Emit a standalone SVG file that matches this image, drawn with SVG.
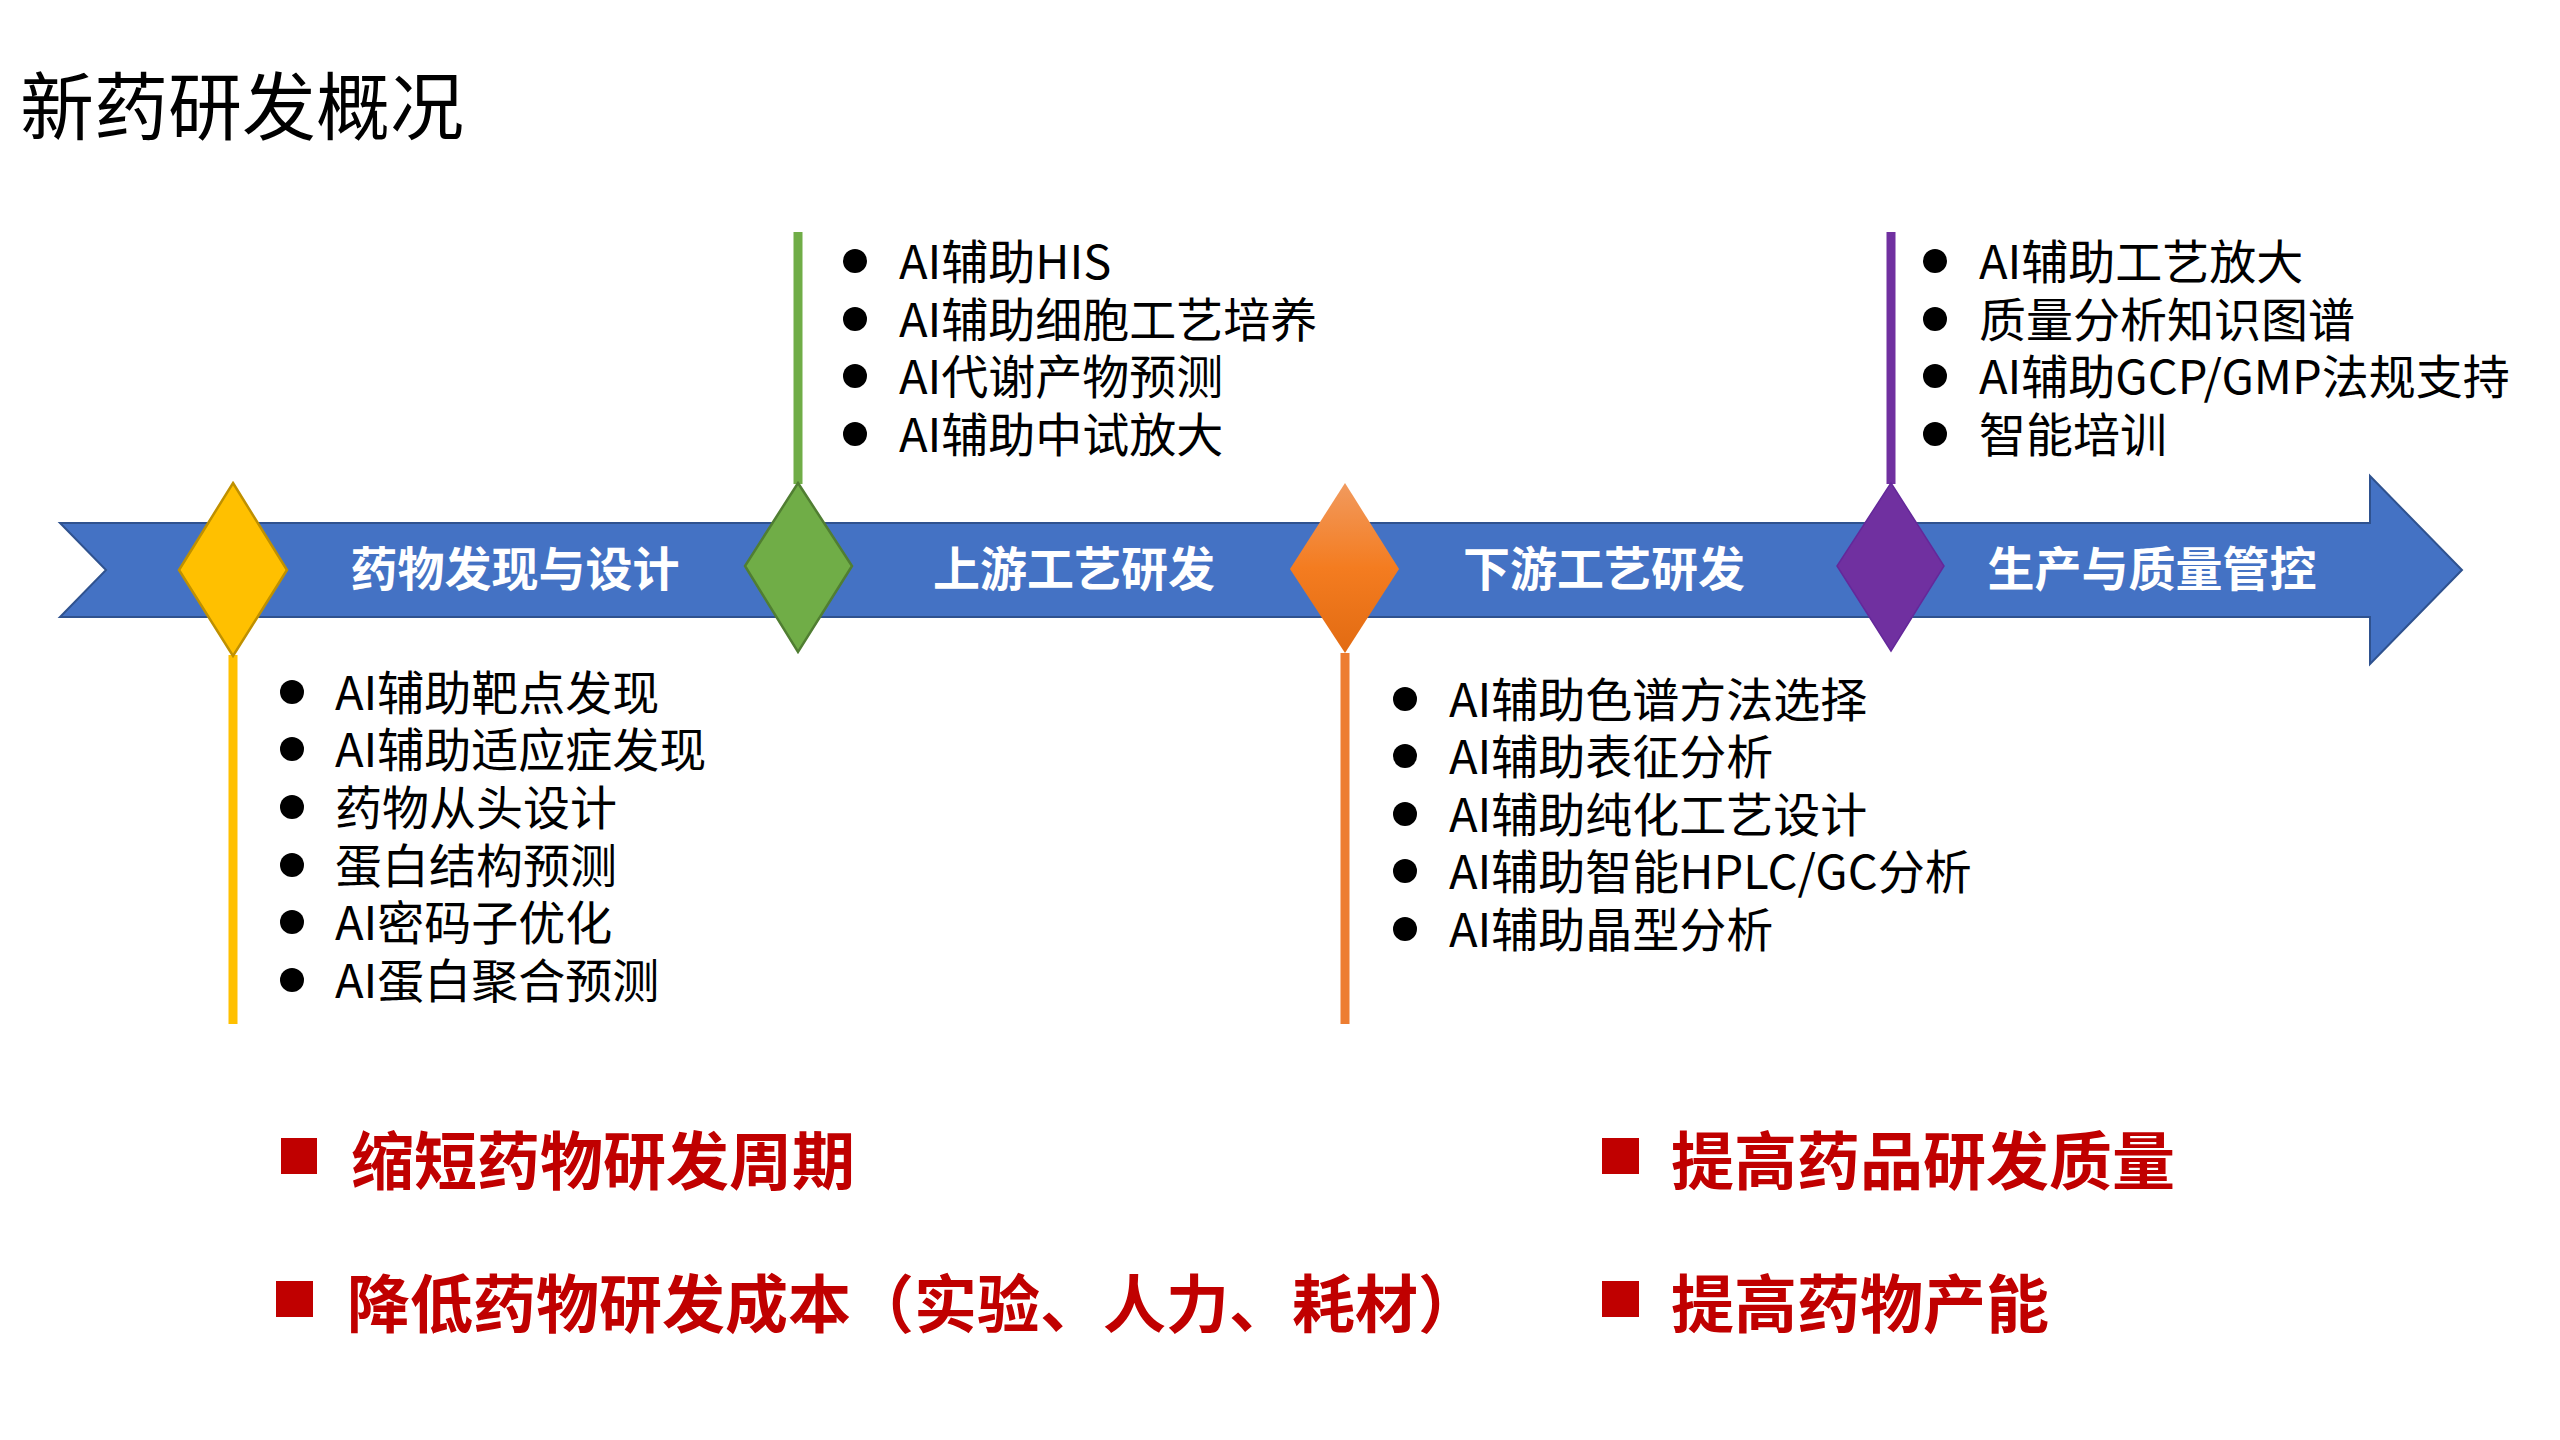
<svg xmlns="http://www.w3.org/2000/svg" width="2560" height="1440" viewBox="0 0 2560 1440">
  <style>
    .title { font-family: "Noto Sans CJK SC", "Noto Sans", sans-serif; font-size: 74px; fill: #000; }
    .stage { font-family: "Noto Sans CJK SC", "Noto Sans", sans-serif; font-size: 47px; font-weight: bold; fill: #fff; text-anchor: middle; }
    .item { font-family: "Noto Sans CJK SC", "Noto Sans", sans-serif; font-size: 47px; fill: #000; }
    .goal { font-family: "Noto Sans CJK SC", "Noto Sans", sans-serif; font-size: 63px; font-weight: bold; fill: #C00000; }
    .dot { fill: #000; }
    .sq { fill: #C00000; }
  </style>
  <defs>
    <linearGradient id="orangeGrad" x1="0" y1="0" x2="0" y2="1">
      <stop offset="0" stop-color="#F19A5E"/>
      <stop offset="0.5" stop-color="#F47C20"/>
      <stop offset="1" stop-color="#E26B12"/>
    </linearGradient>
  </defs>

  <rect width="2560" height="1440" fill="#fff"/>

  <text class="title" x="20" y="134">新药研发概况</text>

  <g id="timeline-arrow">
    <polygon points="60,523 2370,523 2370,476 2462,570 2370,664 2370,617 60,617 106,570" fill="#4472C4" stroke="#2F528F" stroke-width="2"/>
  </g>

  <g id="connectors">
    <line x1="233" y1="655" x2="233" y2="1024" stroke="#FFC000" stroke-width="9"/>
    <line x1="798" y1="232" x2="798" y2="484" stroke="#70AD47" stroke-width="9"/>
    <line x1="1345" y1="653" x2="1345" y2="1024" stroke="#ED7D31" stroke-width="9"/>
    <line x1="1891" y1="232" x2="1891" y2="484" stroke="#7030A0" stroke-width="9"/>
  </g>

  <g id="stage-discovery">
    <polygon points="233,483 287,570 233,656 179,570" fill="#FFC000" stroke="#BF9000" stroke-width="2.5"/>
    <text class="stage" x="515" y="586">药物发现与设计</text>
  </g>
  <g id="stage-upstream">
    <polygon points="798,483 852,566 798,652 745,566" fill="#70AD47" stroke="#507E32" stroke-width="2.5"/>
    <text class="stage" x="1074" y="586">上游工艺研发</text>
  </g>
  <g id="stage-downstream">
    <polygon points="1345,483 1399,569 1345,653 1290,569" fill="url(#orangeGrad)"/>
    <text class="stage" x="1604" y="586">下游工艺研发</text>
  </g>
  <g id="stage-production">
    <polygon points="1891,483 1944,566 1891,651 1837,566" fill="#7030A0" stroke="#64289A" stroke-width="1.5"/>
    <text class="stage" x="2152" y="586">生产与质量管控</text>
  </g>

  <g id="list-discovery">
    <circle class="dot" cx="292" cy="692" r="12"/>
    <text class="item" x="335" y="710">AI辅助靶点发现</text>
    <circle class="dot" cx="292" cy="749" r="12"/>
    <text class="item" x="335" y="767">AI辅助适应症发现</text>
    <circle class="dot" cx="292" cy="807" r="12"/>
    <text class="item" x="335" y="825">药物从头设计</text>
    <circle class="dot" cx="292" cy="865" r="12"/>
    <text class="item" x="335" y="883">蛋白结构预测</text>
    <circle class="dot" cx="292" cy="922" r="12"/>
    <text class="item" x="335" y="940">AI密码子优化</text>
    <circle class="dot" cx="292" cy="980" r="12"/>
    <text class="item" x="335" y="998">AI蛋白聚合预测</text>
  </g>

  <g id="list-upstream">
    <circle class="dot" cx="855" cy="261" r="12"/>
    <text class="item" x="899" y="279">AI辅助HIS</text>
    <circle class="dot" cx="855" cy="319" r="12"/>
    <text class="item" x="899" y="337">AI辅助细胞工艺培养</text>
    <circle class="dot" cx="855" cy="376" r="12"/>
    <text class="item" x="899" y="394">AI代谢产物预测</text>
    <circle class="dot" cx="855" cy="434" r="12"/>
    <text class="item" x="899" y="452">AI辅助中试放大</text>
  </g>

  <g id="list-downstream">
    <circle class="dot" cx="1405" cy="699" r="12"/>
    <text class="item" x="1449" y="717">AI辅助色谱方法选择</text>
    <circle class="dot" cx="1405" cy="756" r="12"/>
    <text class="item" x="1449" y="774">AI辅助表征分析</text>
    <circle class="dot" cx="1405" cy="814" r="12"/>
    <text class="item" x="1449" y="832">AI辅助纯化工艺设计</text>
    <circle class="dot" cx="1405" cy="871" r="12"/>
    <text class="item" x="1449" y="889">AI辅助智能HPLC/GC分析</text>
    <circle class="dot" cx="1405" cy="929" r="12"/>
    <text class="item" x="1449" y="947">AI辅助晶型分析</text>
  </g>

  <g id="list-production">
    <circle class="dot" cx="1935" cy="261" r="12"/>
    <text class="item" x="1979" y="279">AI辅助工艺放大</text>
    <circle class="dot" cx="1935" cy="319" r="12"/>
    <text class="item" x="1979" y="337">质量分析知识图谱</text>
    <circle class="dot" cx="1935" cy="376" r="12"/>
    <text class="item" x="1979" y="394">AI辅助GCP/GMP法规支持</text>
    <circle class="dot" cx="1935" cy="434" r="12"/>
    <text class="item" x="1979" y="452">智能培训</text>
  </g>

  <g id="goals">
    <rect class="sq" x="281" y="1138" width="36" height="36"/>
    <text class="goal" x="351" y="1184">缩短药物研发周期</text>
    <rect class="sq" x="276" y="1281" width="37" height="36"/>
    <text class="goal" x="347" y="1327">降低药物研发成本（实验、人力、耗材）</text>
    <rect class="sq" x="1602" y="1138" width="37" height="36"/>
    <text class="goal" x="1671" y="1184">提高药品研发质量</text>
    <rect class="sq" x="1602" y="1281" width="37" height="36"/>
    <text class="goal" x="1671" y="1327">提高药物产能</text>
  </g>
</svg>
